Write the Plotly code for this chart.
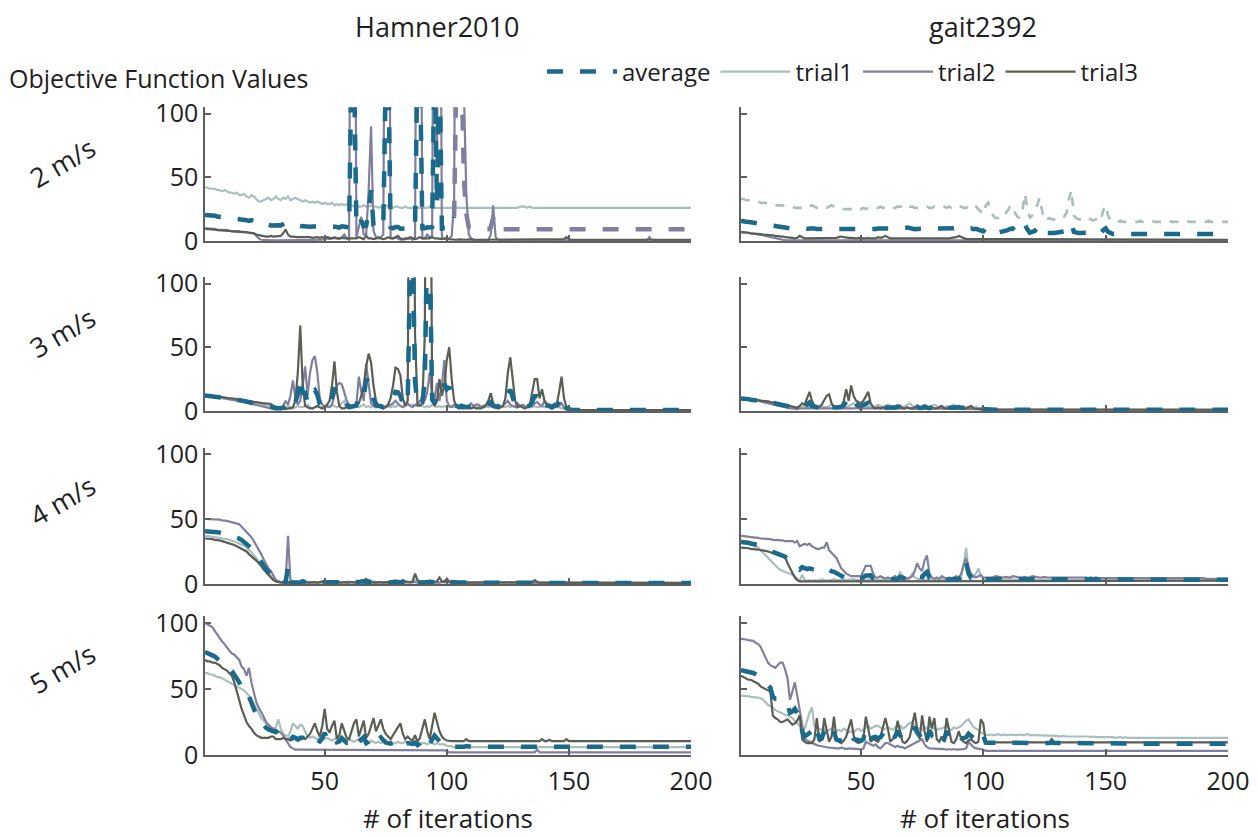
import numpy as np
import plotly.graph_objects as go

iterations = list(range(1, 201))

speeds = ["2 m/s", "3 m/s", "4 m/s", "5 m/s"]
models = ["Hamner2010", "gait2392"]
x_ticks = [50, 100, 150, 200]
y_ticks = [0, 50, 100]

# ---------------- 2 m/s, Hamner2010 ----------------
h2_trial1 = [
    42, 42, 41, 41, 41, 40, 40, 39, 40, 39, 38, 38, 37, 38, 36, 36, 37, 35, 34, 36,
    35, 33, 31, 31, 32, 33, 34, 32, 33, 35, 33, 32, 34, 33, 35, 32, 33, 34, 33, 32,
    31, 32, 31, 30, 31, 30, 31, 30, 29, 30, 29, 29, 30, 28, 29, 28, 29, 28, 29, 28,
    28, 27, 28, 27, 27, 28, 27, 27, 28, 27, 27, 26, 27, 27, 28, 27, 27, 26, 27, 27,
    26, 26, 27, 26, 26, 26, 27, 26, 26, 26, 26, 26, 27, 26, 26, 26, 26, 26, 26, 26,
    26, 26, 26, 26, 26, 26, 26, 26, 26, 26, 26, 26, 26, 26, 26, 26, 26, 26, 26, 26,
    26, 26, 26, 26, 26, 26, 26, 26, 26, 27, 27, 27, 26, 27, 26, 26, 26, 26, 26, 26,
    26, 26, 26, 26, 26, 26, 26, 26, 26, 26, 26, 26, 26, 26, 26, 26, 26, 26, 26, 26,
    26, 26, 26, 26, 26, 26, 26, 26, 26, 26, 26, 26, 26, 26, 26, 26, 26, 26, 26, 26,
    26, 26, 26, 26, 26, 26, 26, 26, 26, 26, 26, 26, 26, 26, 26, 26, 26, 26, 26, 26,
]
h2_trial2 = [
    10, 10, 10, 9.5, 9.5, 9, 9, 9, 8.5, 8.5, 8, 8, 8, 7.5, 7.5, 7, 7, 7, 7, 6.5,
    6, 4, 2, 1, 0.8, 0.6, 0.5, 0.5, 0.5, 0.5, 0.5, 0.6, 0.5, 0.5, 0.6, 0.5, 0.5, 0.5, 0.6, 0.5,
    0.5, 0.5, 0.6, 0.5, 0.5, 0.5, 0.5, 0.6, 1, 1.5, 2, 1.5, 2, 3, 2, 1.5, 3, 5, 2, 1,
    400, 400, 3, 10, 19, 5, 5, 40, 90, 8, 3, 2, 3, 5, 350, 400, 3, 2, 3, 2,
    1, 1, 1.5, 2, 2, 1, 2, 400, 400, 2, 2, 5, 3, 4, 400, 60, 400, 2, 2, 1,
    2, 4, 30, 400, 300, 400, 120, 37, 5, 2, 1, 1, 0.8, 0.8, 0.6, 0.6, 0.6, 5, 28, 3,
    1, 0.6, 0.5, 0.5, 0.5, 0.5, 0.5, 0.5, 0.5, 0.5, 0.5, 0.5, 0.5, 0.5, 0.5, 0.5, 0.5, 0.5, 0.5, 0.5,
    0.5, 0.5, 0.5, 0.5, 0.5, 0.5, 0.5, 0.5, 0.5, 0.5, 0.5, 0.5, 0.5, 0.5, 0.5, 0.5, 0.5, 0.5, 0.5, 0.5,
    0.5, 0.5, 0.5, 0.5, 0.5, 0.5, 0.5, 0.5, 0.5, 0.5, 0.5, 0.5, 0.5, 0.5, 0.5, 0.5, 0.5, 0.5, 0.5, 0.5,
    0.5, 0.5, 3, 0.5, 0.5, 0.5, 0.5, 0.5, 0.5, 0.5, 0.5, 0.5, 0.5, 0.5, 0.5, 0.5, 0.5, 0.5, 0.5, 0.5,
]
h2_trial3 = [
    9.5, 9.5, 9, 9, 9, 8.5, 8.5, 8.5, 8, 8, 8, 7.5, 7.5, 7.5, 7, 7, 7, 7, 6.5, 6.5,
    6, 5, 4.5, 4, 4, 3.5, 3.5, 4, 3.5, 3.5, 3.5, 4, 6, 9, 5, 3.5, 3.5, 3, 3, 3,
    3, 3.5, 3, 3, 2.5, 3, 3, 2.5, 3, 2.5, 3, 2.5, 2, 2.5, 2, 2, 2.5, 2, 2, 2,
    2, 1.5, 2, 3, 2, 1.5, 4, 2, 2, 1.5, 2, 3, 2, 1.5, 2, 3, 2, 2, 3, 4,
    2, 1.5, 2, 2, 3, 2, 1.5, 2, 3, 2, 2, 1.5, 2, 3, 2, 2, 1.5, 1.5, 2, 1.5,
    1.5, 1.2, 1, 1, 1.2, 1, 1, 1, 1.2, 1, 1, 1, 1, 1, 1, 1, 1, 1, 1, 1,
    1, 1, 1, 1, 1, 1, 1, 1, 1.2, 1.5, 1.2, 1, 1, 1, 1, 1, 1, 1, 1, 1,
    1, 1.2, 1.5, 1.5, 1.2, 1, 1, 1.5, 3, 1.5, 1, 1, 1, 1, 1, 1, 1, 1, 1, 1,
    1, 1, 1, 1, 1, 1, 1, 1, 1, 1, 1, 1, 1, 1, 1, 1, 1, 1, 1, 1,
    1, 1, 1, 1, 1, 1, 1, 1, 1, 1, 1, 1, 1, 1, 1, 1, 1, 1, 1, 1,
]

# ---------------- 2 m/s, gait2392 ----------------
g2_trial1 = [
    33, 33, 32, 32, 32, 31, 31, 31, 30, 30, 30, 29, 29, 29, 28, 28, 28, 28, 27, 27,
    27, 27, 26, 26, 26, 26, 27, 26, 27, 28, 27, 26, 26, 27, 27, 26, 27, 28, 27, 26,
    26, 25, 25, 25, 25, 25, 25, 26, 25, 25, 26, 25, 26, 26, 25, 26, 26, 27, 26, 26,
    26, 27, 26, 26, 27, 27, 27, 28, 29, 27, 27, 26, 26, 26, 26, 26, 27, 26, 26, 27,
    26, 26, 27, 27, 26, 27, 26, 27, 28, 27, 27, 26, 26, 27, 28, 26, 27, 25, 23, 21,
    28, 30, 24, 20, 18, 18, 19, 22, 21, 24, 27, 28, 22, 19, 18, 24, 37, 26, 18, 20,
    22, 28, 34, 24, 16, 17, 18, 17, 17, 18, 17, 18, 19, 22, 33, 40, 20, 18, 17, 17,
    18, 17, 18, 17, 16, 17, 18, 16, 24, 28, 20, 16, 15, 15, 15, 16, 15, 15, 15, 15,
    15, 15, 15, 16, 15, 15, 15, 15, 16, 15, 15, 15, 15, 15, 15, 16, 15, 15, 15, 15,
    15, 15, 16, 15, 15, 15, 15, 15, 15, 15, 15, 16, 15, 15, 15, 15, 15, 15, 15, 15,
]
g2_trial2 = [
    7, 7, 6.5, 6.5, 6, 6, 5.5, 5, 5, 4.5, 4, 3.5, 3, 2.5, 2, 1.5, 1.2, 1, 0.8, 0.7,
    0.5, 0.5, 0.6, 0.5, 0.5, 0.5, 0.5, 0.6, 0.5, 0.5, 0.5, 0.5, 0.5, 0.6, 0.5, 0.5, 0.5, 0.5, 0.5, 0.5,
    0.5, 0.5, 0.5, 0.6, 0.5, 0.5, 0.5, 0.5, 0.5, 0.5, 0.5, 0.6, 0.5, 0.5, 0.5, 0.5, 0.5, 0.5, 0.5, 0.5,
    0.5, 0.5, 0.5, 0.5, 0.5, 0.6, 0.5, 0.5, 0.5, 0.5, 0.5, 0.5, 0.5, 0.5, 0.5, 0.5, 0.6, 0.5, 0.5, 0.5,
    0.5, 0.5, 0.5, 0.5, 0.5, 0.5, 0.5, 0.5, 0.6, 0.5, 0.5, 0.5, 0.5, 0.5, 0.5, 0.5, 0.5, 0.5, 0.5, 0.5,
    0.5, 0.5, 0.5, 0.5, 0.5, 0.5, 0.5, 0.5, 0.5, 0.5, 0.5, 0.5, 0.5, 0.5, 0.5, 0.5, 0.5, 0.5, 0.5, 0.5,
    0.5, 0.5, 0.5, 0.5, 0.5, 0.5, 0.5, 0.5, 0.5, 0.5, 0.5, 0.5, 0.5, 0.5, 0.5, 0.5, 0.5, 0.5, 0.5, 0.5,
    0.5, 0.5, 0.5, 0.5, 0.5, 0.5, 0.5, 0.5, 0.5, 0.5, 0.5, 0.5, 0.5, 0.5, 0.5, 0.5, 0.5, 0.5, 0.5, 0.5,
    0.5, 0.5, 0.5, 0.5, 0.5, 0.5, 0.5, 0.5, 0.5, 0.5, 0.5, 0.5, 0.5, 0.5, 0.5, 0.5, 0.5, 0.5, 0.5, 0.5,
    0.5, 0.5, 0.5, 0.5, 0.5, 0.5, 0.5, 0.5, 0.5, 0.5, 0.5, 0.5, 0.5, 0.5, 0.5, 0.5, 0.5, 0.5, 0.5, 0.5,
]
g2_trial3 = [
    7, 7, 6.5, 6.5, 6, 6, 6, 5.5, 5.5, 5, 5, 4.5, 4.5, 4.5, 4, 4, 3.5, 3.5, 3, 3,
    2.5, 2.5, 2, 2.5, 4, 3, 2, 2, 2, 2, 2, 2, 2, 2, 2, 2, 2, 2.5, 2, 2.5,
    3, 3.5, 3, 2.5, 2.5, 2.5, 2, 2, 2.5, 2, 2, 2, 2.5, 2, 2, 2, 3, 2.5, 3, 4,
    3, 2, 2, 2, 2, 2, 1.5, 2, 2, 2, 2, 1.5, 2, 2, 2, 2, 2, 1.5, 2, 2,
    2, 2, 2, 2, 2, 2, 2.5, 2.5, 3, 4, 3, 2, 1.5, 1.5, 1.5, 1.2, 1.2, 1.2, 1.2, 1.2,
    1.2, 1.2, 1.2, 1.2, 1.2, 1.2, 1.2, 1.2, 1.2, 1.2, 1.2, 1.2, 1.2, 1.2, 1.2, 1.2, 1.2, 1.2, 1.2, 1.2,
    1.2, 1.2, 1.2, 1.2, 1.2, 1.2, 1.2, 1.2, 1.2, 1.2, 1.2, 1.2, 1.2, 1.2, 1.2, 1.2, 1.2, 1.2, 1.2, 1.2,
    1, 1, 1, 1, 1, 1, 1, 1, 1, 1, 1, 1, 1, 1, 1, 1, 1, 1, 1, 1,
    1, 1, 1, 1, 1, 1, 1, 1, 1, 1, 1, 1, 1, 1, 1, 1, 1, 1, 1, 1,
    1, 1, 1, 1, 1, 1, 1, 1, 1, 1, 1, 1, 1, 1, 1, 1, 1, 1, 1, 1,
]

# ---------------- 3 m/s, Hamner2010 ----------------
h3_trial1 = [
    12, 12, 11.5, 11.5, 11, 11, 10.5, 10.5, 10, 10, 9.5, 9.5, 9, 9, 8.5, 8, 8, 7.5, 7, 7,
    6.5, 6, 6, 5.5, 5, 4.5, 4, 3.5, 3, 2.5, 2, 2, 2.5, 3, 4, 3, 2, 3, 4, 3,
    3, 4, 5, 3, 2, 3, 4, 3, 2, 4, 3, 3, 5, 4, 3, 4, 6, 8, 4, 3,
    3, 4, 3, 3, 4, 5, 3, 4, 3, 4, 3, 4, 3, 3, 4, 4, 3, 4, 3, 5,
    4, 3, 4, 5, 4, 5, 4, 6, 5, 4, 3, 4, 3, 5, 4, 3, 4, 3, 4, 3,
    3, 4, 3, 4, 3, 5, 4, 3, 4, 3, 4, 3, 3, 4, 3, 4, 3, 3, 4, 3,
    3, 4, 3, 3, 4, 3, 4, 3, 3, 4, 3, 3, 4, 3, 3, 4, 3, 3, 4, 3,
    3, 4, 3, 3, 3, 3, 2, 2, 1.5, 1, 0.8, 0.8, 0.8, 0.8, 0.8, 0.8, 0.8, 0.8, 0.8, 0.8,
    0.8, 0.8, 0.8, 0.8, 0.8, 0.8, 0.8, 0.8, 0.8, 0.8, 0.8, 0.8, 0.8, 0.8, 0.8, 0.8, 0.8, 0.8, 0.8, 0.8,
    0.8, 0.8, 0.8, 0.8, 0.8, 0.8, 0.8, 0.8, 0.8, 0.8, 0.8, 0.8, 0.8, 0.8, 0.8, 0.8, 0.8, 0.8, 0.8, 0.8,
]
h3_trial2 = [
    12, 12, 11.5, 11.5, 11, 11, 10.5, 10, 10, 9.5, 9, 9, 8.5, 8, 8, 7.5, 7, 6.5, 6, 5.5,
    5, 4.5, 4, 3.5, 3, 2.5, 2, 1.5, 1, 1, 1.5, 2, 4, 8, 5, 12, 24, 10, 5, 8,
    20, 35, 12, 30, 40, 43, 30, 10, 5, 3, 4, 3, 5, 12, 20, 22, 21, 15, 8, 5,
    4, 3, 5, 27, 15, 8, 37, 20, 6, 4, 3, 4, 5, 4, 3, 4, 5, 6, 8, 6,
    4, 3, 5, 6, 4, 3, 5, 4, 8, 10, 8, 15, 30, 12, 10, 22, 8, 20, 40, 8,
    4, 3, 5, 4, 3, 5, 4, 3, 4, 6, 4, 5, 5, 3, 4, 5, 6, 4, 3, 4,
    5, 3, 4, 6, 8, 5, 4, 3, 6, 4, 5, 4, 3, 5, 4, 6, 7, 5, 4, 8,
    6, 5, 4, 6, 5, 4, 6, 3, 2, 1, 0.5, 0.5, 0.5, 0.5, 0.5, 0.5, 0.5, 0.5, 0.5, 0.5,
    0.5, 0.5, 0.5, 0.5, 0.5, 0.5, 0.5, 0.5, 0.5, 0.5, 0.5, 0.5, 0.5, 0.5, 0.5, 0.5, 0.5, 0.5, 0.5, 0.5,
    0.5, 0.5, 0.5, 0.5, 0.5, 0.5, 0.5, 0.5, 0.5, 0.5, 0.5, 0.5, 0.5, 0.5, 0.5, 0.5, 0.5, 0.5, 0.5, 0.5,
]
h3_trial3 = [
    12.5, 12, 12, 11.5, 11.5, 11, 11, 11, 10.5, 10.5, 10, 10, 9.5, 9.5, 9, 9, 8.5, 8, 8, 7.5,
    7, 7, 6.5, 6.5, 6, 6, 6, 5.5, 4, 3, 2, 2, 1.5, 1.5, 2, 2, 3, 8, 30, 67,
    20, 4, 3, 2, 2, 3, 4, 3, 2, 3, 5, 8, 20, 39, 15, 4, 2, 2, 3, 2,
    3, 4, 5, 6, 12, 20, 35, 45, 38, 20, 8, 4, 3, 2, 3, 5, 10, 20, 34, 33,
    28, 10, 4, 8, 350, 400, 60, 5, 4, 6, 60, 400, 350, 10, 4, 8, 25, 12, 20, 40,
    50, 25, 8, 4, 3, 2, 2, 3, 2, 2, 3, 2, 2, 2, 3, 4, 8, 14, 6, 3,
    2, 3, 4, 10, 30, 42, 25, 8, 3, 4, 3, 2, 3, 5, 15, 25, 25, 10, 17, 8,
    4, 3, 2, 3, 5, 15, 27, 10, 3, 2, 1, 0.8, 0.8, 0.8, 0.8, 0.8, 0.8, 0.8, 0.8, 0.8,
    0.8, 0.8, 0.8, 0.8, 0.8, 0.8, 0.8, 0.8, 0.8, 0.8, 0.8, 0.8, 0.8, 0.8, 0.8, 0.8, 0.8, 0.8, 0.8, 0.8,
    0.8, 0.8, 0.8, 0.8, 0.8, 0.8, 0.8, 0.8, 0.8, 0.8, 0.8, 0.8, 0.8, 0.8, 0.8, 0.8, 0.8, 0.8, 0.8, 0.8,
]

# ---------------- 3 m/s, gait2392 ----------------
g3_trial1 = [
    10, 10, 9.5, 9.5, 9, 9, 9, 8.5, 8.5, 8, 8, 7.5, 7, 7, 6.5, 6, 5.5, 5, 4.5, 4,
    3.5, 3, 3, 3, 3, 3.5, 4, 3, 3, 3, 4, 3, 3, 4, 3, 3, 4, 5, 4, 3,
    4, 5, 4, 3, 4, 5, 6, 4, 3, 4, 5, 4, 3, 4, 3, 4, 5, 4, 3, 4,
    5, 4, 3, 4, 5, 4, 3, 4, 5, 6, 4, 3, 4, 3, 4, 5, 4, 3, 4, 5,
    4, 3, 4, 3, 4, 3, 4, 5, 3, 3, 4, 3, 3, 3, 2, 3, 3, 2, 2, 2,
    1.2, 1.2, 1.2, 1.5, 1.2, 1.2, 1.2, 1.2, 1.5, 1.2, 1.2, 1.2, 1.2, 1.2, 1.2, 1.5, 1.2, 1.2, 1.2, 1.2,
    1, 1, 1, 1, 1, 1, 1, 1, 1, 1, 1, 1, 1, 1, 1, 1, 1, 1, 1, 1,
    1, 1, 1, 1, 1, 1, 1, 1, 1, 1, 1, 1, 1, 1, 1, 1, 1, 1, 1, 1,
    1, 1, 1, 1, 1, 1, 1, 1, 1, 1, 1, 1, 1, 1, 1, 1, 1, 1, 1, 1,
    1, 1, 1, 1, 1, 1, 1, 1, 1, 1, 1, 1, 1, 1, 1, 1, 1, 1, 1, 1,
]
g3_trial2 = [
    9.5, 9.5, 9, 9, 8.5, 8.5, 8, 8, 7.5, 7, 7, 6.5, 6, 5.5, 5, 4.5, 4, 3.5, 3, 2.5,
    2, 2, 1.5, 1.5, 2, 2, 1.5, 1.5, 2, 1.5, 2, 2, 1.5, 2, 2, 1.5, 2, 2, 1.5, 2,
    2, 1.5, 2, 2, 1.5, 2, 2, 2.5, 2, 1.5, 2, 2, 1.5, 2, 2, 1.5, 2, 2, 2, 1.5,
    2, 2, 1.5, 2, 2, 1.5, 2, 2, 2.5, 2, 2, 1.5, 2, 2, 1.5, 2, 2, 1.5, 2, 2,
    2, 1.5, 2, 2, 1.5, 2, 2, 1.5, 2, 2, 1.5, 2, 2, 1.5, 1.5, 1.5, 1.5, 1.2, 1.2, 1.2,
    1, 1, 1, 1, 1, 1, 1, 1, 1, 1, 1, 1, 1, 1, 1, 1, 1, 1, 1, 1,
    1, 1, 1, 1, 1, 1, 1, 1, 1, 1, 1, 1, 1, 1, 1, 1, 1, 1, 1, 1,
    1, 1, 1, 1, 1, 1, 1, 1, 1, 1, 1, 1, 1, 1, 1, 1, 1, 1, 1, 1,
    1, 1, 1, 1, 1, 1, 1, 1, 1, 1, 1, 1, 1, 1, 1, 1, 1, 1, 1, 1,
    1, 1, 1, 1, 1, 1, 1, 1, 1, 1, 1, 1, 1, 1, 1, 1, 1, 1, 1, 1,
]
g3_trial3 = [
    10, 10, 9.5, 9.5, 9, 9, 8.5, 8.5, 8, 8, 7.5, 7.5, 7, 7, 6.5, 6, 5.5, 5, 4.5, 4,
    3.5, 3, 2.5, 2.5, 4, 6, 5, 10, 15, 8, 4, 3, 3, 5, 8, 12, 13, 6, 3, 3,
    3, 3, 8, 17, 8, 20, 12, 8, 7, 6, 8, 12, 15, 6, 3, 2, 3, 2, 3, 2,
    2, 3, 2, 2, 3, 4, 2, 2, 3, 2, 2, 3, 4, 2, 2, 3, 2, 2, 3, 2,
    2, 3, 4, 2, 2, 3, 2, 2, 3, 4, 2, 2, 2, 3, 4, 2, 2, 2, 2, 1.5,
    1, 1, 1, 1, 1, 1, 1, 1, 1, 1, 1, 1, 1, 1, 1, 1, 1, 1, 1, 1,
    1, 1, 1, 1, 1, 1, 1, 1, 1, 1, 1, 1, 1, 1, 1, 1, 1, 1, 1, 1,
    1, 1, 1, 1, 1, 1, 1, 1, 1, 1, 1, 1, 1, 1, 1, 1, 1, 1, 1, 1,
    1, 1, 1, 1, 1, 1, 1, 1, 1, 1, 1, 1, 1, 1, 1, 1, 1, 1, 1, 1,
    1, 1, 1, 1, 1, 1, 1, 1, 1, 1, 1, 1, 1, 1, 1, 1, 1, 1, 1, 1,
]

# ---------------- 4 m/s, Hamner2010 ----------------
h4_trial1 = [
    37, 37, 36.5, 36.5, 36, 36, 35.5, 35, 35, 34.5, 34, 33.5, 33, 32, 31, 30.5, 29.5, 28, 26.5, 24.5,
    22, 20, 17, 14, 12, 10, 8, 6, 4, 3, 2, 1.5, 1.2, 1, 1, 1.2, 1.5, 1.2, 1, 1.2,
    1.5, 1.2, 1, 1.5, 1, 1, 1.2, 1, 1.5, 1.2, 1, 1, 1.5, 1, 1.2, 1.5, 1, 1.2, 1, 2,
    1.5, 1, 1.2, 1.5, 2, 1, 1.2, 1.5, 1, 2, 1.5, 1, 1.2, 1, 1.5, 1.2, 1, 2, 3, 1.5,
    1, 1.5, 1.2, 1, 1.5, 2, 3, 1.5, 1, 1.2, 1.5, 2, 3, 2, 1.5, 1.2, 1, 1.5, 1.2, 1,
    1, 1.2, 1, 1, 1.2, 1, 1, 1, 1.2, 1, 1, 1, 1.2, 1, 1, 1, 1, 1.2, 1, 1,
    1, 1, 1.2, 1, 1, 1, 1, 1, 1, 1.2, 1, 1, 1, 1, 1, 1.2, 1, 1, 1, 1,
    0.8, 0.8, 0.8, 0.8, 0.8, 0.8, 0.8, 0.8, 0.8, 0.8, 0.8, 0.8, 0.8, 0.8, 0.8, 0.8, 0.8, 0.8, 0.8, 0.8,
    0.8, 0.8, 0.8, 0.8, 0.8, 0.8, 0.8, 0.8, 0.8, 0.8, 0.8, 0.8, 0.8, 0.8, 0.8, 0.8, 0.8, 0.8, 0.8, 0.8,
    0.8, 0.8, 0.8, 0.8, 0.8, 0.8, 0.8, 0.8, 0.8, 0.8, 0.8, 0.8, 0.8, 0.8, 0.8, 0.8, 0.8, 0.8, 0.8, 0.8,
]
h4_trial2 = [
    50, 50, 50, 50, 49.5, 49.5, 49.5, 49, 49, 48.5, 48, 47.5, 47, 46.5, 46, 44, 42, 40, 38, 36,
    33, 30, 26, 23, 19, 15, 12, 10, 6, 3, 2, 1.5, 1, 1.5, 37, 2, 1, 1, 1.2, 1,
    1.5, 1, 1.2, 1, 1, 1.5, 1, 1.2, 1, 1.5, 1, 1, 1.2, 1, 1.5, 1, 1.2, 1, 1, 1.5,
    1, 1.2, 1, 1.5, 2, 1.5, 2, 3, 1.5, 1, 1.2, 1, 1.5, 1, 1.2, 1, 1.5, 1, 1.2, 2,
    1.5, 1, 1.2, 1.5, 1, 1.2, 1.5, 1, 1.2, 1.5, 1, 1.2, 2, 1.5, 1, 1.2, 1, 1.5, 2, 3,
    1.5, 1, 1.2, 1, 1, 1, 1.2, 1, 1, 1, 1, 1.2, 1, 1, 1, 1, 1, 1, 1.2, 1,
    1, 1, 1, 1, 1.2, 1, 1, 1, 1, 1, 1, 1, 1, 1, 1, 1, 1, 1, 1, 1,
    0.8, 0.8, 0.8, 0.8, 0.8, 0.8, 0.8, 0.8, 0.8, 0.8, 0.8, 0.8, 0.8, 0.8, 0.8, 0.8, 0.8, 0.8, 0.8, 0.8,
    0.8, 0.8, 0.8, 0.8, 0.8, 0.8, 0.8, 0.8, 0.8, 0.8, 0.8, 0.8, 0.8, 0.8, 0.8, 0.8, 0.8, 0.8, 0.8, 0.8,
    0.8, 0.8, 0.8, 0.8, 0.8, 0.8, 0.8, 0.8, 0.8, 0.8, 0.8, 0.8, 0.8, 0.8, 0.8, 0.8, 0.8, 0.8, 0.8, 0.8,
]
h4_trial3 = [
    35, 35, 34.5, 34.5, 34, 34, 33.5, 33, 32.5, 32, 31.5, 31, 30, 29, 28, 27, 26, 25, 23, 21.5,
    20, 18, 16, 14, 11, 9, 7, 5, 3, 2, 1.5, 1, 1.2, 1.5, 1.5, 1.2, 1, 1.2, 1, 1.5,
    3, 1.5, 1.2, 1, 1.5, 1.2, 1, 1.5, 2, 1.2, 1, 1.5, 1.2, 1, 1.5, 1.2, 1, 1.5, 1.2, 1,
    1.5, 1.2, 1, 1.5, 2, 3, 4, 2, 1.5, 1.2, 1, 1.5, 1.2, 1, 1.5, 1.2, 1, 1.5, 1.2, 1,
    1.5, 3, 2, 1.5, 1.2, 2, 8, 3, 1.5, 1.2, 1, 1.5, 1.2, 1, 1.5, 2, 5, 2, 1.5, 4,
    2, 1.5, 1.2, 1, 1, 1.2, 1, 1, 1, 1.2, 1, 1, 1, 1, 1, 1, 1, 1, 1, 1,
    1, 1, 1, 1, 1, 1, 1, 1, 1, 1, 1, 1, 1, 1, 1.5, 3, 1.5, 1, 1, 1,
    0.6, 0.6, 0.6, 0.6, 0.6, 0.6, 0.6, 0.6, 0.6, 0.6, 0.6, 0.6, 0.6, 0.6, 0.6, 0.6, 0.6, 0.6, 0.6, 0.6,
    0.6, 0.6, 0.6, 0.6, 0.6, 0.6, 0.6, 0.6, 0.6, 0.6, 0.6, 0.6, 0.6, 0.6, 0.6, 0.6, 0.6, 0.6, 0.6, 0.6,
    0.6, 0.6, 0.6, 0.6, 0.6, 0.6, 0.6, 0.6, 0.6, 0.6, 0.6, 0.6, 0.6, 0.6, 0.6, 0.6, 0.6, 0.6, 0.6, 0.6,
]

# ---------------- 4 m/s, gait2392 ----------------
g4_trial1 = [
    32, 32, 31.5, 31, 30.5, 30, 29, 28, 26, 24, 22, 20, 18, 16, 14, 12.5, 11, 10, 9, 8.5,
    8, 7, 6, 4, 2.5, 7, 3, 2.5, 3, 2.5, 3, 2.5, 3, 3.5, 3, 2.5, 3, 3, 4, 3,
    3, 3.5, 4, 3, 3, 3.5, 4, 3, 3, 3.5, 4, 3, 3.5, 4, 3, 4, 3.5, 3, 4, 3.5,
    3, 4, 3.5, 4, 5, 9, 6, 4, 3.5, 5, 8, 5, 4, 3.5, 4, 3.5, 3, 4, 3.5, 3,
    3.5, 3, 4, 3.5, 4, 3, 3.5, 4, 3.5, 4, 6, 15, 28, 10, 4, 5, 8, 12, 6, 4,
    3.5, 3.5, 3.3, 3.5, 3.3, 3.3, 3.8, 3.3, 3.3, 3.5, 3.3, 3.3, 3.3, 3.8, 3.3, 3.3, 3.3, 3.5, 3.3, 3.3,
    3.3, 3.3, 3.5, 3.3, 3.3, 3.3, 3.3, 3.5, 3.3, 3.3, 3.3, 3.3, 3.3, 3.5, 3.3, 3.3, 3.3, 3.3, 3.3, 3.5,
    3.3, 3.3, 3.3, 3.3, 3.5, 3.3, 3.3, 3.3, 3.3, 3.3, 3.3, 3.5, 3.3, 3.3, 3.3, 3.3, 3.3, 3.3, 3.3, 3.3,
    3.3, 3.5, 3.3, 3.3, 3.3, 3.3, 3.3, 3.3, 3.3, 3.5, 3.3, 3.3, 3.3, 3.3, 3.3, 3.3, 3.3, 3.3, 3.3, 3.3,
    3.3, 3.3, 3.3, 3.3, 3.3, 3.3, 3.5, 3.3, 3.3, 3.3, 3.3, 3.3, 3.3, 3.3, 3.3, 3.3, 3.3, 3.3, 3.3, 3.3,
]
g4_trial2 = [
    37, 37, 36.5, 36.5, 36, 36, 35.5, 35.5, 35, 35, 35, 34.5, 34.5, 34, 34, 34, 33.5, 33.5, 33, 33,
    33, 33, 32, 33, 29, 30, 31, 30, 31, 29, 28, 27, 27, 28, 28, 32, 26, 24, 22, 20,
    16, 12, 10, 8, 7, 6, 6, 6, 6, 6, 10, 14, 14, 14, 8, 5, 5, 6, 5, 4,
    5, 4, 5, 6, 4, 5, 6, 5, 4, 5, 6, 10, 16, 12, 10, 18, 22, 8, 5, 4,
    5, 4, 6, 5, 4, 5, 4, 5, 6, 5, 8, 15, 20, 12, 8, 6, 5, 6, 7, 5,
    5, 5.5, 5, 5, 6, 5.5, 5, 5, 5.5, 5, 5, 6, 5.5, 5, 5, 5, 5.5, 5, 5, 6,
    5.5, 5, 5, 5, 5.5, 5, 5, 5, 5, 5.5, 5, 5, 5, 5.5, 5, 5, 5, 5, 5.5, 5,
    5, 5, 4.5, 5, 4.5, 5, 4.5, 4.5, 5, 4.5, 4.5, 4.5, 4.5, 5, 4.5, 4.5, 4.5, 4.5, 4.5, 4.5,
    4.5, 4.5, 4.5, 4.5, 4.5, 4.5, 4.5, 4.5, 4.5, 4.5, 4.5, 4.5, 4.5, 4.5, 4.5, 4.5, 4.5, 4.5, 4.5, 4.5,
    4.5, 4.5, 4.5, 4.5, 4.5, 4.5, 4.5, 4.5, 4.5, 4.5, 4, 4, 4, 4, 4, 4, 4, 4, 4, 4,
]
g4_trial3 = [
    28, 28, 27.5, 27.5, 27, 27, 26.5, 26.5, 26, 26, 25.5, 25, 24.5, 24, 23.5, 23, 22.5, 22, 21, 16,
    12, 8, 5, 3, 2, 2, 2, 2, 2, 2, 2, 2, 2, 2, 2, 2, 2, 2, 2, 2,
    2, 2, 2.5, 2, 2, 2, 2.5, 2, 2, 2, 2, 2.5, 2, 2, 2, 2, 2.5, 2, 2, 2,
    2, 2.5, 2, 2, 2, 2.5, 2, 2, 2, 2, 2.5, 2, 2, 2, 2, 2, 2.5, 2, 2, 2,
    2, 2, 2.5, 2, 2, 2, 2, 2.5, 2, 2, 2, 2, 2.5, 2, 2, 2, 2, 2, 2, 2,
    2.5, 2.5, 2.5, 2.5, 2.5, 2.5, 2.5, 2.5, 2.5, 2.5, 2.5, 2.5, 2.5, 2.5, 2.5, 2.5, 2.5, 2.5, 2.5, 2.5,
    2.5, 2.5, 2.5, 2.5, 2.5, 2.5, 2.5, 2.5, 2.5, 2.5, 2.5, 2.5, 2.5, 2.5, 2.5, 2.5, 2.5, 2.5, 2.5, 2.5,
    2.5, 2.5, 2.5, 2.5, 2.5, 2.5, 2.5, 2.5, 2.5, 2.5, 2.5, 2.5, 2.5, 2.5, 2.5, 2.5, 2.5, 2.5, 2.5, 2.5,
    2.5, 2.5, 2.5, 2.5, 2.5, 2.5, 2.5, 2.5, 2.5, 2.5, 2.5, 2.5, 2.5, 2.5, 2.5, 2.5, 2.5, 2.5, 2.5, 2.5,
    2.5, 2.5, 2.5, 2.5, 2.5, 2.5, 2.5, 2.5, 2.5, 2.5, 2.5, 2.5, 2.5, 2.5, 2.5, 2.5, 2.5, 2.5, 2.5, 2.5,
]

# ---------------- 5 m/s, Hamner2010 ----------------
h5_trial1 = [
    62, 62, 61, 61, 60, 59, 59, 58, 57, 56, 55, 54, 53, 52, 51, 50, 49, 47, 45, 42,
    39, 36, 32, 28, 26, 24, 22, 21, 20, 21, 27, 20, 16, 15, 14, 18, 24, 22, 20, 23,
    22, 18, 14, 13, 14, 13, 12, 13, 12, 12, 13, 12, 11, 12, 13, 12, 11, 12, 11, 12,
    11, 10, 11, 12, 10, 11, 10, 10, 11, 10, 9, 10, 9, 10, 9, 9, 10, 9, 9, 10,
    9, 9, 10, 9, 9, 10, 9, 9, 9, 9, 9, 8, 9, 9, 8, 9, 8, 8, 8, 7,
    7, 6.5, 6, 6, 6, 6, 6, 6.5, 6, 6, 6, 6, 6, 6, 6, 6, 6, 6, 6, 6,
    6, 6, 6, 6, 6, 6, 6, 6, 6, 6, 6, 6.5, 6, 6, 6, 6, 6, 6, 6, 6,
    6, 6, 6, 6, 6, 6, 6, 6, 6, 6, 6, 6, 6, 6, 6, 6, 6, 6, 6, 6,
    6, 6, 6, 6, 6, 6, 6, 6, 6, 6, 6, 6, 6, 6, 6, 6, 6, 6, 6, 6,
    6, 6, 6, 6, 6, 6, 6, 6, 6, 6, 6, 6, 6, 6, 6, 6, 6, 6, 6, 6,
]
h5_trial2 = [
    100, 99, 98, 97, 94, 91, 88, 86, 84, 81, 79, 77, 76, 74, 72, 67, 65, 60, 66, 55,
    47, 40, 36, 33, 29, 25, 23, 21, 20, 19, 18, 17, 15, 12, 9, 6, 5, 4, 4, 4,
    4, 4, 3.5, 4, 4, 3.5, 4, 4, 4, 3.5, 4, 4, 3.5, 4, 4, 4, 3.5, 4, 4, 4,
    4, 3.5, 4, 4, 4, 3.5, 4, 4, 4, 4, 3.5, 4, 4, 4, 3.5, 4, 4, 4, 4, 3.5,
    4, 4, 3.5, 4, 4, 4, 4, 3.5, 4, 4, 4, 3.5, 4, 4, 4, 3.5, 4, 4, 3.5, 3,
    2, 2, 2, 2, 2, 2, 2, 2, 2, 2, 2, 2, 2, 2, 2, 2, 2, 2, 2, 2,
    2, 2, 2, 2, 2, 2, 2, 2, 2, 2, 2, 2, 2, 2, 2, 2, 4, 2, 2, 2,
    2, 2, 2, 2, 2, 2, 2, 2, 2, 2, 2, 2, 2, 2, 2, 2, 2, 2, 2, 2,
    2, 2, 2, 2, 2, 2, 2, 2, 2, 2, 2, 2, 2, 2, 2, 2, 2, 2, 2, 2,
    2, 2, 2, 2, 2, 2, 2, 2, 2, 2, 2, 2, 2, 2, 2, 2, 2, 2, 2, 2,
]
h5_trial3 = [
    72, 71, 71, 70, 70, 69, 68, 66, 65, 64, 62, 60, 55, 48, 42, 35, 30, 25, 22, 20,
    17, 15, 14, 13, 13, 13, 13, 14, 14, 12, 12, 12, 13, 12, 12, 11, 12, 13, 11, 12,
    13, 12, 14, 16, 20, 24, 18, 14, 22, 35, 20, 17, 22, 26, 12, 15, 24, 18, 13, 12,
    18, 24, 27, 14, 20, 26, 13, 16, 22, 28, 18, 23, 27, 20, 16, 14, 12, 15, 18, 22,
    24, 16, 12, 14, 12, 11, 15, 10, 13, 20, 27, 18, 12, 22, 32, 25, 18, 14, 12, 11,
    10.5, 10.5, 10.5, 10.5, 10.5, 10.5, 10.5, 12, 10.5, 10.5, 10.5, 10.5, 10.5, 10.5, 10.5, 10.5, 10.5, 10.5, 10.5, 10.5,
    10.5, 10.5, 10.5, 10.5, 10.5, 10.5, 10.5, 10.5, 10.5, 10.5, 10.5, 10.5, 10.5, 10.5, 10.5, 10.5, 10.5, 10.5, 12, 10.5,
    10.5, 11.5, 10.5, 10.5, 10.5, 10.5, 10.5, 10.5, 12, 10.5, 10.5, 10.5, 10.5, 10.5, 10.5, 10.5, 10.5, 10.5, 10.5, 10.5,
    10.5, 10.5, 10.5, 10.5, 10.5, 10.5, 10.5, 10.5, 10.5, 10.5, 10.5, 10.5, 10.5, 10.5, 10.5, 10.5, 10.5, 10.5, 10.5, 10.5,
    10.5, 10.5, 10.5, 10.5, 10.5, 10.5, 10.5, 10.5, 10.5, 10.5, 10.5, 10.5, 10.5, 10.5, 10.5, 10.5, 10.5, 10.5, 10.5, 10.5,
]

# ---------------- 5 m/s, gait2392 ----------------
g5_trial1 = [
    45, 45, 44.5, 44.5, 44, 44, 43.5, 43.5, 43, 42, 40, 38, 37, 36, 34, 33, 32, 31, 30.5, 30,
    29, 28, 26, 24, 22, 17, 20, 26, 32, 36, 22, 21, 20, 19, 20, 18, 19, 20, 18, 18,
    19, 18, 20, 19, 17, 18, 17, 19, 20, 18, 19, 21, 22, 20, 21, 22, 22, 21, 19, 20,
    21, 20, 19, 21, 22, 22, 20, 21, 23, 24, 25, 22, 21, 20, 19, 21, 20, 22, 21, 20,
    19, 20, 20, 21, 22, 20, 19, 21, 20, 21, 22, 24, 26, 27, 24, 21, 20, 19, 17, 16,
    15.5, 15, 15.5, 15, 15, 16, 15, 15.5, 15, 15, 15.5, 15, 15, 15, 15.5, 15, 15, 16, 15, 15,
    15, 15, 15, 14.5, 15, 14.5, 14.5, 15, 14.5, 14.5, 14, 14.5, 14.5, 14, 14, 14.5, 14, 14, 14, 14,
    14, 14, 14, 13.5, 14, 13.5, 13.5, 13.5, 14, 13.5, 13.5, 13.5, 13.5, 13, 13.5, 13.5, 13, 13.5, 13, 13,
    13, 13, 13, 13, 13, 13, 13, 13, 13, 13, 13, 13, 13, 13, 13, 13, 13, 13, 13, 13,
    13, 13, 13, 13, 13, 13, 13, 13, 13, 13, 13, 13, 13, 13, 13, 13, 13, 13, 13, 13,
]
g5_trial2 = [
    88, 88, 87.5, 87, 87, 86.5, 85, 84, 82, 78, 74, 70, 68, 67, 66, 68, 70, 70, 65, 58,
    42, 48, 55, 45, 35, 25, 12, 11, 10, 9, 8, 7.5, 7, 6.5, 6, 6, 5.5, 5.5, 5, 5,
    5, 5.5, 5, 4.5, 5, 5, 4.5, 5, 4.5, 4, 5, 10, 9, 8, 7, 8, 6, 5, 7, 9,
    9, 8, 7, 6, 7, 6, 6, 5, 6, 7, 8, 9, 10, 11, 12, 8, 6, 5, 5, 5,
    5, 4.5, 5, 4.5, 4, 4.5, 4, 4.5, 4, 4, 4, 4.5, 5, 10, 8, 6, 5, 5, 4.5, 4,
    3.2, 3.2, 3.2, 3.2, 3.2, 3.2, 3.2, 3.2, 3.2, 3.2, 3.2, 3.2, 3.2, 3.2, 3.2, 3.2, 3.2, 3.2, 3.2, 3.2,
    3.2, 3.2, 3.2, 3.2, 3.2, 3.2, 3.2, 3.2, 3.2, 3.2, 3.2, 3.2, 3.2, 3.2, 3.2, 3.2, 3.2, 3.2, 3.2, 3.2,
    3.2, 3.2, 3.2, 3.2, 3.2, 3.2, 3.2, 3.2, 3.2, 3.2, 3.2, 3.2, 3.2, 3.2, 3.2, 3.2, 3.2, 3.2, 3.2, 3.2,
    3.2, 3.2, 3.2, 3.2, 3.2, 3.2, 3.2, 3.2, 3.2, 3.2, 3.2, 3.2, 3.2, 3.2, 3.2, 3.2, 3.2, 3.2, 3.2, 3.2,
    3.2, 3.2, 3.2, 3.2, 3.2, 3.2, 3.2, 3.2, 3.2, 3.2, 3.2, 3.2, 3.2, 3.2, 3.2, 3.2, 3.2, 3.2, 3.2, 3.2,
]
g5_trial3 = [
    60, 59, 58, 57, 57, 56, 55, 54, 52, 51, 50, 49, 48, 30, 28, 27, 25, 25, 26, 27,
    25, 23, 24, 26, 30, 12, 10, 9, 9, 9, 12, 28, 10, 12, 28, 18, 10, 14, 29, 12,
    10, 9, 11, 14, 20, 27, 15, 10, 9, 10, 12, 29, 20, 10, 12, 11, 10, 14, 22, 28,
    20, 10, 12, 15, 26, 18, 10, 9, 11, 14, 22, 32, 20, 12, 30, 18, 10, 29, 20, 28,
    12, 10, 14, 10, 28, 18, 10, 9, 12, 18, 12, 10, 9, 11, 12, 10, 9, 10, 27, 24,
    9.5, 9.5, 9.5, 9.5, 9.5, 9.5, 9.5, 9.5, 9.5, 9.5, 9.5, 9.5, 9.5, 9.5, 9.5, 9.5, 9.5, 9.5, 9.5, 9.5,
    9.5, 9.5, 9.5, 9.5, 9.5, 9.5, 9.5, 12, 9.5, 9.5, 9.5, 9.5, 9.5, 9.5, 9.5, 9.5, 9.5, 9.5, 9.5, 9.5,
    9.5, 9.5, 9.5, 9.5, 9.5, 9.5, 9.5, 9.5, 9.5, 9.5, 9.5, 9.5, 9.5, 9.5, 9.5, 9.5, 9.5, 9.5, 9.5, 9.5,
    9.5, 9.5, 9.5, 9.5, 9.5, 9.5, 9.5, 9.5, 9.5, 9.5, 9.5, 9.5, 9.5, 9.5, 9.5, 9.5, 9.5, 9.5, 9.5, 9.5,
    9.5, 9.5, 9.5, 9.5, 9.5, 9.5, 9.5, 9.5, 9.5, 9.5, 9.5, 9.5, 9.5, 9.5, 9.5, 9.5, 9.5, 9.5, 9.5, 9.5,
]

# ---------------- figure ----------------
# The page body keeps its default 8px margin, so the figure is drawn 8px in
# from the top-left corner of the window: positions below are window pixels.
OFF = 8
W, H = 1258 - OFF, 837 - OFF


def px_x(p):
    return (p - OFF) / W


def px_y(p):
    return 1 - (p - OFF) / H


C_AVG = "#1b6a8c"
C_T1 = "#a9bfbd"
C_T2 = "#80809e"
C_T3 = "#5a5e55"
AXIS_C = "#5f5f5f"
TEXT_C = "#1e1e1e"
FONT = "Open Sans"

panels = [
    (0, 0, h2_trial1, h2_trial2, h2_trial3),
    (0, 1, g2_trial1, g2_trial2, g2_trial3),
    (1, 0, h3_trial1, h3_trial2, h3_trial3),
    (1, 1, g3_trial1, g3_trial2, g3_trial3),
    (2, 0, h4_trial1, h4_trial2, h4_trial3),
    (2, 1, g4_trial1, g4_trial2, g4_trial3),
    (3, 0, h5_trial1, h5_trial2, h5_trial3),
    (3, 1, g5_trial1, g5_trial2, g5_trial3),
]

# window-pixel layout of the panels (left, right) and (y of value 0, px per unit)
col_px = [(205, 691), (741, 1228)]
row_px = [(241, 1.274), (411, 1.275), (584, 1.30), (755, 1.32)]
Y_TOP = 105

fig = go.Figure()
layout_axes = {}

for (r, c, t1, t2, t3) in panels:
    k = r * 2 + c + 1
    xa = "x" if k == 1 else f"x{k}"
    ya = "y" if k == 1 else f"y{k}"
    first = (k == 1)
    n = min(len(t1), len(t2), len(t3), len(iterations))
    it = iterations[:n]
    a1, a2, a3 = np.array(t1[:n], float), np.array(t2[:n], float), np.array(t3[:n], float)
    avg = (a1 + a2 + a3) / 3.0

    t1_dash = "9px,9px" if (r, c) == (0, 1) else "solid"
    t1_w = 2.6 if (r, c) == (0, 1) else 2.2
    fig.add_trace(go.Scatter(x=it, y=a1, mode="lines", name="trial1", legendgroup="trial1",
                             showlegend=first, legendrank=2,
                             line=dict(color=C_T1, width=t1_w, dash=t1_dash), xaxis=xa, yaxis=ya))
    fig.add_trace(go.Scatter(x=it, y=a2, mode="lines", name="trial2", legendgroup="trial2",
                             showlegend=first, legendrank=3,
                             line=dict(color=C_T2, width=2.2), xaxis=xa, yaxis=ya))
    fig.add_trace(go.Scatter(x=it, y=a3, mode="lines", name="trial3", legendgroup="trial3",
                             showlegend=first, legendrank=4,
                             line=dict(color=C_T3, width=2.2), xaxis=xa, yaxis=ya))
    if (r, c) == (0, 0):
        split = 103
        fig.add_trace(go.Scatter(x=it[:split], y=avg[:split], mode="lines", name="average",
                                 legendgroup="average", showlegend=True, legendrank=1,
                                 line=dict(color=C_AVG, width=4.5, dash="16px,17px"),
                                 xaxis=xa, yaxis=ya))
        fig.add_trace(go.Scatter(x=it[split - 1:], y=avg[split - 1:], mode="lines", name="average",
                                 legendgroup="average", showlegend=False,
                                 line=dict(color=C_T2, width=4.5, dash="16px,17px"),
                                 xaxis=xa, yaxis=ya))
    else:
        fig.add_trace(go.Scatter(x=it, y=avg, mode="lines", name="average",
                                 legendgroup="average", showlegend=False,
                                 line=dict(color=C_AVG, width=4.5, dash="16px,17px"),
                                 xaxis=xa, yaxis=ya))

    x0, x1 = col_px[c]
    y0, s = row_px[r]
    ytop = y0 - Y_TOP * s
    common = dict(showline=True, linecolor=AXIS_C, linewidth=1.5, ticks="inside", ticklen=6,
                  tickcolor=AXIS_C, tickwidth=1.5, showgrid=False, zeroline=False,
                  tickfont=dict(family=FONT, size=25, color=TEXT_C), mirror=False,
                  automargin=False)
    layout_axes["xaxis" if k == 1 else f"xaxis{k}"] = dict(
        common, domain=[px_x(x0), px_x(x1)], range=[1, 200], tickvals=x_ticks,
        showticklabels=(r == 3), anchor=ya, ticklabelstandoff=3)
    layout_axes["yaxis" if k == 1 else f"yaxis{k}"] = dict(
        common, domain=[px_y(y0), px_y(ytop)], range=[0, Y_TOP], tickvals=y_ticks,
        showticklabels=(c == 0), anchor=xa, ticklabelstandoff=0)

annotations = []
title_x = [437, 983]
for c, m in enumerate(models):
    annotations.append(dict(text=m, x=px_x(title_x[c]), y=px_y(27), xref="paper", yref="paper",
                            showarrow=False, font=dict(family=FONT, size=27, color=TEXT_C),
                            xanchor="center", yanchor="middle", borderpad=0))
    x0, x1 = col_px[c]
    annotations.append(dict(text="# of iterations", x=px_x((x0 + x1) / 2), y=px_y(818),
                            xref="paper", yref="paper", showarrow=False,
                            font=dict(family=FONT, size=26, color=TEXT_C),
                            xanchor="center", yanchor="middle", borderpad=0))
row_label_y = [162, 332, 500, 668]
for r, sp in enumerate(speeds):
    annotations.append(dict(text=sp, x=px_x(62), y=px_y(row_label_y[r]), xref="paper", yref="paper",
                            showarrow=False, textangle=-30,
                            font=dict(family=FONT, size=27, color=TEXT_C),
                            xanchor="center", yanchor="middle"))
annotations.append(dict(text="Objective Function Values", x=px_x(7), y=px_y(78), xref="paper",
                        yref="paper", showarrow=False, font=dict(family=FONT, size=25, color=TEXT_C),
                        xanchor="left", yanchor="middle"))

fig.update_layout(
    width=W, height=H,
    margin=dict(l=0, r=0, t=0, b=0, pad=0, autoexpand=False),
    paper_bgcolor="white", plot_bgcolor="white",
    font=dict(family=FONT, color=TEXT_C),
    showlegend=True,
    legend=dict(orientation="h", x=px_x(542), y=px_y(72), xanchor="left", yanchor="middle",
                font=dict(family=FONT, size=24, color=TEXT_C), bgcolor="rgba(0,0,0,0)",
                itemwidth=70, traceorder="normal"),
    annotations=annotations,
    **layout_axes,
)

fig.write_html("out.html")
